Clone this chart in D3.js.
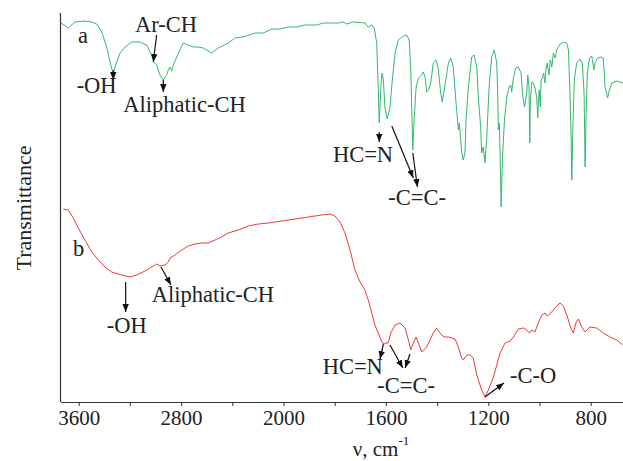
<!DOCTYPE html>
<html><head><meta charset="utf-8">
<script src="https://cdn.jsdelivr.net/npm/d3@7"></script>
<style>
html,body{margin:0;padding:0;background:#fff;}
svg{display:block;}
text{font-family:"Liberation Serif","Times New Roman",serif;fill:#222;}
</style></head>
<body>
<svg id="chart" width="623" height="461"></svg>
<script>
// ---- data (wavenumber cm-1, transmittance a.u.) ----
const tickValues = [3600, 3200, 2800, 2400, 2000, 1800, 1600, 1400, 1200, 1000, 800];
const tickLabels = ["3600", "", "2800", "", "2000", "", "1600", "", "1200", "", "800"];

const specA = [
[3738,379],[3681,374],[3629,380],[3551,381],[3498,380],[3459,378],[3420,370],[3381,355],[3355,340],
[3330,328],[3311,337],[3277,349],[3238,355],[3186,360],[3121,360],[3069,357],[3030,347],[3012,340],
[2991,337],[2965,327],[2939,322],[2913,327],[2900,332],[2887,335],[2873,331],[2861,337],[2834,345],
[2809,352],[2783,359],[2744,357],[2705,355],[2666,355],[2627,354],[2600,352],[2561,349],[2509,354],
[2431,359],[2379,364],[2327,365],[2288,366],[2223,369],[2158,369],[2092,373],[2027,373],[1981,375],
[1948,375],[1916,377],[1870,377],[1845,379],[1786,379],[1766,380],[1753,378],[1727,380],[1682,379],
[1669,375],[1655,377],[1645,373],[1636,359],[1630,315],[1626,279],[1620,315],[1615,329],[1610,322],
[1604,295],[1595,283],[1584,295],[1575,322],[1564,349],[1552,362],[1532,366],[1519,367],[1509,362],
[1503,332],[1498,282],[1495,252],[1490,282],[1482,315],[1473,324],[1460,327],[1454,330],[1447,325],
[1441,310],[1434,312],[1425,319],[1415,339],[1404,342],[1395,332],[1386,309],[1380,300],[1369,317],
[1356,339],[1347,344],[1337,335],[1326,299],[1317,272],[1313,279],[1308,262],[1304,250],[1298,242],
[1291,250],[1287,282],[1278,315],[1265,345],[1256,347],[1245,335],[1239,305],[1230,275],[1226,249],
[1220,255],[1213,239],[1206,265],[1197,315],[1187,345],[1177,352],[1167,339],[1163,305],[1161,272],
[1157,279],[1154,249],[1150,195],[1145,242],[1137,282],[1128,305],[1119,315],[1112,317],[1109,310],
[1102,324],[1093,334],[1083,335],[1072,329],[1067,309],[1059,295],[1050,309],[1046,327],[1041,315],
[1038,259],[1036,299],[1030,320],[1024,319],[1018,314],[1011,305],[1007,284],[1005,299],[1001,312],
[997,295],[994,322],[989,324],[984,329],[979,319],[975,332],[970,339],[963,327],[958,342],[952,335],
[946,349],[939,344],[933,352],[920,358],[907,360],[894,359],[887,352],[882,315],[877,272],[874,222],
[870,272],[864,322],[855,339],[842,343],[833,339],[826,309],[822,235],[818,289],[813,329],[805,344],
[796,346],[788,332],[783,339],[773,344],[760,345],[751,344],[744,315],[734,304],[729,310],[718,319],
[698,321],[686,320],[674,319]
];

const specB = [
[3720,193],[3681,192],[3642,184],[3603,174],[3551,162],[3498,150],[3447,142],[3395,135],[3342,130],
[3264,127],[3199,125],[3147,127],[3082,131],[3017,136],[2991,138],[2965,136],[2926,137],[2900,140],
[2887,144],[2848,147],[2795,152],[2744,156],[2691,158],[2639,159],[2588,159],[2535,162],[2483,165],
[2431,169],[2353,172],[2275,176],[2197,178],[2119,179],[2014,181],[1955,183],[1903,185],[1851,187],
[1818,188],[1799,186],[1779,180],[1760,169],[1740,152],[1721,132],[1701,120],[1682,112],[1669,102],
[1655,89],[1643,77],[1630,69],[1616,60],[1607,58],[1600,59],[1591,59],[1581,69],[1564,77],[1545,79],
[1525,74],[1512,62],[1503,52],[1493,59],[1482,65],[1473,59],[1460,50],[1441,55],[1415,69],[1402,74],
[1389,69],[1373,65],[1356,65],[1330,63],[1317,55],[1304,44],[1298,42],[1284,47],[1271,47],[1259,44],
[1245,27],[1226,12],[1213,5],[1200,12],[1180,25],[1154,49],[1135,59],[1115,61],[1102,65],[1083,73],
[1063,74],[1050,72],[1040,69],[1030,72],[1018,70],[1005,79],[991,87],[978,89],[970,86],[956,89],
[933,96],[920,99],[907,96],[891,85],[878,74],[868,69],[857,80],[848,83],[835,75],[822,70],[803,75],
[777,74],[751,69],[725,65],[698,62],[675,57]
];

// text labels: [wavenumber, transmittance, text]
const labels = [
  [3605, 359, "a"], [3160, 370, "Ar-CH"], [3616, 309, "-OH"], [3252, 290, "Aliphatic-CH"],
  [1807, 240, "HC=N"], [1591, 197, "-C=C-"],
  [3645, 146, "b"], [3381, 69, "-OH"], [3030, 100, "Aliphatic-CH"],
  [1847, 28, "HC=N"], [1634, 9, "-C=C-"], [1115, 19, "-C-O"]
];
// arrows: [wn1, T1, wn2, T2]
const arrows = [
  [2991, 367, 3017, 340], [3330, 332, 3330, 322], [2939, 322, 2939, 310],
  [1626, 270, 1626, 260], [1577, 276, 1493, 224], [1495, 249, 1477, 215],
  [3233, 120, 3233, 90], [2957, 135, 2879, 117],
  [1610, 58, 1623, 43], [1584, 57, 1534, 34], [1506, 48, 1525, 34],
  [1213, 5, 1139, 19]
];

// ---- drawing ----
const svg = d3.select("#chart");
const x = d3.scaleLinear().domain([3742, 2000, 674]).range([60.5, 283.5, 623]);
const y = d3.scaleLinear().domain([0, 390]).range([402, 12]);

const defs = svg.append("defs");
defs.append("clipPath").attr("id", "clip").append("rect")
  .attr("x", 61).attr("y", 0).attr("width", 562).attr("height", 402);
defs.append("marker").attr("id", "ah").attr("viewBox", "0 0 10 10")
  .attr("refX", 10).attr("refY", 5).attr("markerWidth", 8).attr("markerHeight", 8)
  .attr("markerUnits", "userSpaceOnUse").attr("orient", "auto")
  .append("path").attr("d", "M0,1 L10,5 L0,9 Z").attr("fill", "#111");

const line = d3.line().x(d => x(d[0])).y(d => y(d[1]));
const g = svg.append("g").attr("clip-path", "url(#clip)");
g.append("path").datum(specA).attr("d", line).attr("fill", "none")
  .attr("stroke", "#35b86e").attr("stroke-width", 1);
g.append("path").datum(specB).attr("d", line).attr("fill", "none")
  .attr("stroke", "#ee3a3a").attr("stroke-width", 1);

// axes
const xAxis = d3.axisBottom(x).tickValues(tickValues)
  .tickFormat((d, i) => tickLabels[i]).tickSize(4).tickSizeOuter(0).tickPadding(4);
const ax = svg.append("g").attr("transform", `translate(0,${y(0)})`).call(xAxis);
ax.select(".domain").attr("stroke", "#333").attr("stroke-width", 1.2);
ax.selectAll(".tick line").attr("stroke", "#333");
ax.selectAll(".tick text").attr("font-family", '"Liberation Serif",serif')
  .attr("font-size", 21).attr("fill", "#222");

svg.append("line").attr("x1", x(3742)).attr("x2", x(3742)).attr("y1", y(389)).attr("y2", y(0))
  .attr("stroke", "#333").attr("stroke-width", 1.2);

// axis titles
const xt = svg.append("text").attr("x", 381).attr("y", 456).attr("text-anchor", "middle")
  .attr("font-size", 21);
xt.append("tspan").text("ν, cm");
xt.append("tspan").attr("dy", -11).attr("font-size", 13).text("-1");

svg.append("text").attr("transform", "translate(31,208) rotate(-90)")
  .attr("text-anchor", "middle").attr("font-size", 22).text("Transmittance");

// annotations
svg.selectAll(".lbl").data(labels).join("text").attr("class", "lbl")
  .attr("x", d => x(d[0])).attr("y", d => y(d[1])).attr("font-size", 22.5).text(d => d[2]);
svg.selectAll(".arr").data(arrows).join("line").attr("class", "arr")
  .attr("x1", d => x(d[0])).attr("y1", d => y(d[1]))
  .attr("x2", d => x(d[2])).attr("y2", d => y(d[3]))
  .attr("stroke", "#111").attr("stroke-width", 1.2).attr("marker-end", "url(#ah)");
</script>
</body></html>
